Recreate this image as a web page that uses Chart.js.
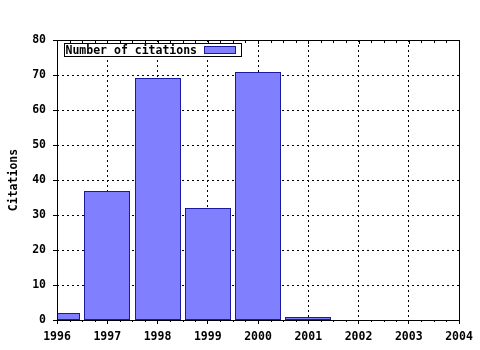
<!DOCTYPE html>
<html>
<head>
<meta charset="utf-8">
<script src="https://cdn.jsdelivr.net/npm/chart.js@4/dist/chart.umd.min.js"></script>
<style>
  html, body { margin: 0; padding: 0; background: #ffffff; }
  #wrap { width: 480px; height: 350px; }
</style>
</head>
<body>
<div id="wrap"><canvas id="citeChart" width="480" height="350"></canvas></div>
<script>
// chart data
const years = [1996, 1997, 1998, 1999, 2000, 2001];
const citations = [2, 37, 69, 32, 71, 1];
const seriesLabel = 'Number of citations';
const axisTitle = 'Citations';
const xRange = [1996, 2004];
const yRange = [0, 80];

const MONO = "'DejaVu Sans Mono', 'Liberation Mono', monospace";
const BAR_FILL = '#8080ff';
const BAR_EDGE = '#1a1aa0';

// snap bar edges to whole pixels so the 1px outline stays crisp
const snapPlugin = {
    id: 'snap',
    afterDatasetsUpdate(chart) {
        chart.getDatasetMeta(0).data.forEach(el => {
            el.x = Math.round(el.x);
            el.y = Math.round(el.y);
            el.base = Math.round(el.base);
            el.width = 2 * Math.round(el.width / 2);
        });
    }
};

// frame, minor ticks and the boxed legend
const framePlugin = {
    id: 'frame',
    afterDraw(chart) {
        const { ctx, chartArea: a, scales } = chart;
        const x = scales.x;
        ctx.save();
        ctx.strokeStyle = '#000';
        ctx.lineWidth = 1;
        ctx.setLineDash([]);
        ctx.strokeRect(Math.round(a.left) + 0.5, Math.round(a.top) + 0.5,
            Math.round(a.right - a.left), Math.round(a.bottom - a.top));

        // quarter-year minor ticks on top (inside) and bottom (outside)
        ctx.beginPath();
        for (let v = xRange[0]; v <= xRange[1] + 1e-9; v += 0.25) {
            const px = Math.round(x.getPixelForValue(v)) + 0.5;
            const major = Math.abs(v - Math.round(v)) < 1e-9;
            ctx.moveTo(px, a.top);
            ctx.lineTo(px, a.top + (major ? 4 : 3));
            if (!major) {
                ctx.moveTo(px, a.bottom);
                ctx.lineTo(px, a.bottom + 2);
            }
        }
        ctx.stroke();

        // legend
        const lx = a.left + 7.5, ly = a.top + 3.5, lw = 177, lh = 13;
        ctx.fillStyle = '#fff';
        ctx.fillRect(lx, ly, lw, lh);
        ctx.strokeRect(lx, ly, lw, lh);
        ctx.fillStyle = '#000';
        ctx.font = 'bold 11.5px ' + MONO;
        ctx.textBaseline = 'alphabetic';
        ctx.textAlign = 'left';
        ctx.fillText(chart.data.datasets[0].label, lx + 1, ly + 10.5);
        ctx.fillStyle = BAR_FILL;
        ctx.fillRect(lx + 140, ly + 3, 31, 7);
        ctx.strokeStyle = BAR_EDGE;
        ctx.strokeRect(lx + 140, ly + 3, 31, 7);
        ctx.restore();
    }
};

new Chart(document.getElementById('citeChart'), {
    type: 'bar',
    data: {
        datasets: [{
            label: seriesLabel,
            data: years.map((y, i) => ({ x: y, y: citations[i] })),
            backgroundColor: BAR_FILL,
            borderColor: BAR_EDGE,
            borderWidth: 1,
            borderSkipped: false,
            inflateAmount: 0,
            barPercentage: 0.92,
            categoryPercentage: 1.0
        }]
    },
    options: {
        responsive: false,
        animation: false,
        layout: { padding: { top: 40, right: 21, left: 0, bottom: 0 } },
        scales: {
            x: {
                type: 'linear',
                min: xRange[0],
                max: xRange[1],
                offset: false,
                afterFit: s => { s.height = 30; },
                grid: {
                    color: '#000',
                    tickColor: '#000',
                    tickLength: 4,
                    tickBorderDash: [],
                    offset: false
                },
                border: { display: false, dash: [2, 3] },
                ticks: {
                    stepSize: 1,
                    padding: 6,
                    maxRotation: 0,
                    color: '#000',
                    font: { family: MONO, size: 11.5, weight: 'bold' },
                    callback: v => String(v)
                }
            },
            y: {
                min: yRange[0],
                max: yRange[1],
                afterFit: s => { s.width = 57; },
                grid: {
                    color: '#000',
                    tickColor: '#000',
                    tickLength: 4,
                    tickBorderDash: []
                },
                border: { display: false, dash: [2, 3] },
                ticks: {
                    stepSize: 10,
                    padding: 7,
                    color: '#000',
                    font: { family: MONO, size: 11.5, weight: 'bold' }
                },
                title: {
                    display: true,
                    text: axisTitle,
                    color: '#000',
                    padding: { top: 7, bottom: 0 },
                    font: { family: MONO, size: 11.5, weight: 'bold' }
                }
            }
        },
        plugins: {
            legend: { display: false },
            tooltip: { enabled: false }
        }
    },
    plugins: [snapPlugin, framePlugin]
});
</script>
</body>
</html>
